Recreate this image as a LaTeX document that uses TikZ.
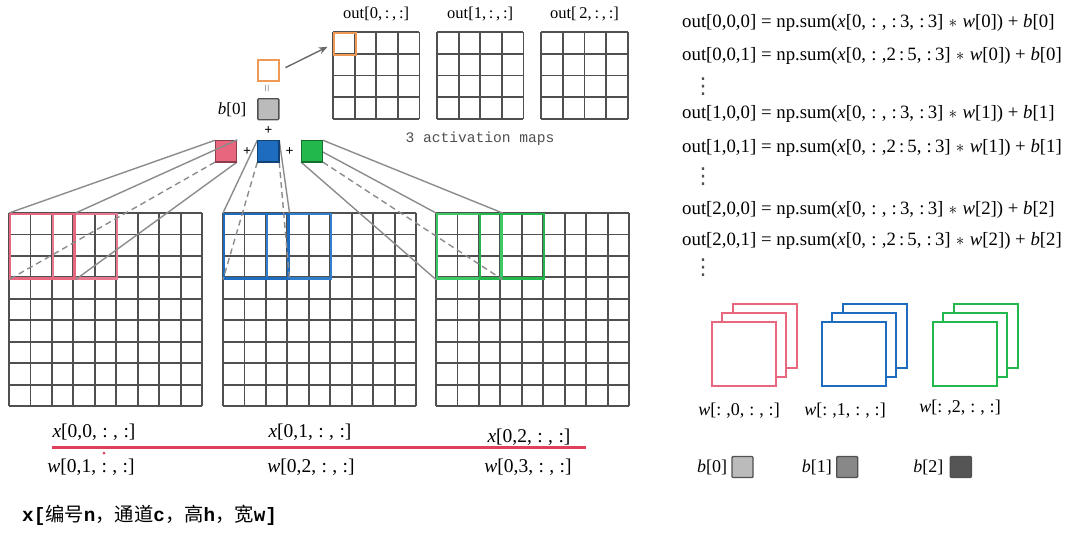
\documentclass[tikz,border=0pt]{standalone}
\usepackage{fontspec}
\setmainfont{Liberation Serif}
\newfontfamily\monofont{Liberation Mono}
\newfontfamily\cjk{Noto Sans CJK SC}
\newfontfamily\dejavu{DejaVu Sans}
\usetikzlibrary{arrows.meta}
\definecolor{pinkc}{HTML}{E8667E}
\definecolor{pinkd}{HTML}{E77A90}
\definecolor{bluec}{HTML}{1E6CC0}
\definecolor{blued}{HTML}{2F7FCC}
\definecolor{greenc}{HTML}{22B84C}
\definecolor{greend}{HTML}{3CC865}
\definecolor{orangec}{HTML}{EE9955}
\definecolor{gridc}{HTML}{505050}
\definecolor{linec}{HTML}{8C8C8C}
\definecolor{redl}{HTML}{E0405C}
\definecolor{bz}{HTML}{BBBBBB}
\definecolor{bo}{HTML}{888888}
\definecolor{bt}{HTML}{555555}
\begin{document}
\begin{tikzpicture}[x=1pt,y=-1pt,
  gl/.style={draw=gridc, line width=1.8pt},
  ksq/.style={draw=#1!60!black, fill=#1, minimum size=21.5pt, inner sep=0pt, line width=1.4pt},
  win/.style={draw=#1, line width=2.2pt, minimum size=64.35pt, inner sep=0pt, anchor=north west},
  conn/.style={draw=linec, line width=1.4pt},
  dconn/.style={draw=linec, line width=1.4pt, dash pattern=on 6pt off 4pt},
  wsq/.style={draw=#1, fill=white, line width=2pt, minimum size=64pt, inner sep=0pt},
  bsq/.style={draw=gridc, fill=#1, minimum size=21pt, inner sep=0pt, line width=1.4pt, rounded corners=1pt},
  plus/.style={font=\fontsize{14}{14}\selectfont\bfseries, inner sep=0pt},
  lab/.style={font=\fontsize{19.5}{21}\selectfont, inner sep=0pt},
  eq/.style={font=\fontsize{18.8}{21}\selectfont, inner sep=0pt, anchor=west},
  vd/.style={font=\dejavu\fontsize{22}{22}\selectfont, text=gridc, inner sep=0pt},
  wlab/.style={font=\fontsize{18}{20}\selectfont, inner sep=0pt},
  outlab/.style={font=\fontsize{16.5}{18}\selectfont, inner sep=0pt}
]
\fill[white] (0,0) rectangle (1080,533);

% ---- big input grids ----
\foreach \ox in {9,223,436}{
  \foreach \i in {0,...,9}{
    \draw[gl] (\ox+\i*21.45,213) -- (\ox+\i*21.45,406.05);
    \draw[gl] (\ox,213+\i*21.45) -- (\ox+193.05,213+\i*21.45);
  }
}
% window boxes
\node[win=pinkd] (p2) at (51.9,213) {};
\node[win=pinkc] (p1) at (9,213) {};
\node[win=blued] (b2) at (265.9,213) {};
\node[win=bluec] (b1) at (223,213) {};
\node[win=greend] (g1) at (436,213) {};
\node[win=greenc] (g2) at (478.9,213) {};

% ---- output grids ----
\foreach \ox in {333,437,541.3}{
  \foreach \i in {0,...,4}{
    \draw[gl] (\ox+\i*21.6,32.3) -- (\ox+\i*21.6,118.7);
    \draw[gl] (\ox,32.3+\i*21.6) -- (\ox+86.4,32.3+\i*21.6);
  }
}
\node[draw=orangec, line width=2pt, minimum size=21.6pt, inner sep=0pt, anchor=north west] (oc) at (333,32.3) {};
\node[outlab] (o0) at (376.2,14) {out[0,\,:\,,\,:]};
\node[outlab] (o1) at (480.2,14) {out[1,\,:\,,\,:]};
\node[outlab] (o2) at (584.5,14) {out[\,2,\,:\,,\,:]};
\node[font=\monofont\fontsize{14.6}{16}\selectfont, text=gridc, inner sep=0pt] (am) at (480,138.5) {3 activation maps};

% ---- connectors (under kernel squares) ----
\coordinate (kpc) at (226,151.2);
\coordinate (kbc) at (268.3,151.2);
\coordinate (kgc) at (312,151.2);
\node[minimum size=21.5pt, inner sep=0pt] (kp0) at (kpc) {};
\node[minimum size=21.5pt, inner sep=0pt] (kb0) at (kbc) {};
\node[minimum size=21.5pt, inner sep=0pt] (kg0) at (kgc) {};
\draw[conn] (kp0.north west) -- (p1.north west);
\draw[dconn] (kp0.south west) -- (p1.south west);
\draw[conn] (kp0.south east) -- (p1.south east);
\draw[conn] (kb0.north west) -- (b1.north west);
\draw[conn] (kb0.north east) -- (b1.north east);
\draw[dconn] (kb0.south west) -- (b1.south west);
\draw[dconn] (kb0.south east) -- (b1.south east);
\draw[conn] (kg0.north west) -- (g1.north west);
\draw[conn] (kg0.north east) -- (g1.north east);
\draw[conn] (kg0.south west) -- (g1.south west);
\draw[dconn] (kg0.south east) -- (g1.south east);

% ---- kernel squares ----
\node[ksq=pinkc] (kp) at (kpc) {};
\node[ksq=bluec] (kb) at (kbc) {};
\node[ksq=greenc] (kg) at (kgc) {};
\draw[conn] (kp.north east) -- (p1.north east);
\node[plus] (pl1) at (247,151.5) {+};
\node[plus] (pl2) at (289.5,151.5) {+};
\node[plus] (pl3) at (268.3,130.5) {+};

% bias and result
\node[bsq=bz] (bb) at (268.3,109.2) {};
\node[font=\fontsize{17}{18}\selectfont, inner sep=0pt] (bbl) at (232,109.5) {\textit{b}[0]};
\node[font=\fontsize{14}{14}\selectfont, text=gridc!70, rotate=90, inner sep=0pt] (eqs) at (268.3,88.5) {=};
\node[draw=orangec, fill=white, line width=2pt, minimum size=21pt, inner sep=0pt] (os) at (268.6,70.3) {};
\draw[draw=gridc!85, line width=1.4pt, -{Stealth[length=9pt,width=7pt]}, shorten <=6pt, shorten >=6pt] (os.east) -- (oc.west);

% ---- labels under grids ----
\node[lab] (xl0) at (94,432) {\textit{x}[0,0,\;:\;,\;:]};
\node[lab] (xl1) at (310,432) {\textit{x}[0,1,\;:\;,\;:]};
\node[lab] (xl2) at (529,437) {\textit{x}[0,2,\;:\;,\;:]};
\node[lab] (wl0) at (91,467) {\textit{w}[0,1,\;:\;,\;:]};
\node[lab] (wl1) at (311,467) {\textit{w}[0,2,\;:\;,\;:]};
\node[lab] (wl2) at (528,467) {\textit{w}[0,3,\;:\;,\;:]};
\coordinate (rl0) at (52,447.5);
\coordinate (rl1) at (586,447.5);
\draw[draw=redl, line width=2.4pt] (rl0) -- (rl1);
\fill[redl] (104,453) circle (1.5);

\node[anchor=west, inner sep=0pt, font=\fontsize{19.3}{21}\selectfont] (cn) at (22,515)
  {{\monofont\bfseries x[}{\cjk 编号}{\monofont\bfseries n}{\cjk ，通道}{\monofont\bfseries c}{\cjk ，高}{\monofont\bfseries h}{\cjk ，宽}{\monofont\bfseries w]}};

% ---- equations ----
\node[eq] (e1) at (682,23) {out[0,0,0] = np.sum(\textit{x}[0,\;:\;,\;:\,3,\;:\,3]\;$*$\;\textit{w}[0]) + \textit{b}[0]};
\node[eq] (e2) at (682,56) {out[0,0,1] = np.sum(\textit{x}[0,\;:\;,2\,:\,5,\;:\,3]\;$*$\;\textit{w}[0]) + \textit{b}[0]};
\node[vd] (d1) at (703,87) {⋮};
\node[eq] (e3) at (682,114) {out[1,0,0] = np.sum(\textit{x}[0,\;:\;,\;:\,3,\;:\,3]\;$*$\;\textit{w}[1]) + \textit{b}[1]};
\node[eq] (e4) at (682,148) {out[1,0,1] = np.sum(\textit{x}[0,\;:\;,2\,:\,5,\;:\,3]\;$*$\;\textit{w}[1]) + \textit{b}[1]};
\node[vd] (d2) at (703,177) {⋮};
\node[eq] (e5) at (682,210) {out[2,0,0] = np.sum(\textit{x}[0,\;:\;,\;:\,3,\;:\,3]\;$*$\;\textit{w}[2]) + \textit{b}[2]};
\node[eq] (e6) at (682,241) {out[2,0,1] = np.sum(\textit{x}[0,\;:\;,2\,:\,5,\;:\,3]\;$*$\;\textit{w}[2]) + \textit{b}[2]};
\node[vd] (d3) at (703,268) {⋮};

% ---- weight stacks ----
\foreach \c/\cx/\nm in {pinkc/743.8/wp, bluec/853.8/wb, greenc/964.5/wg}{
  \node[wsq=\c] (\nm3) at (\cx+21,336.2) {};
  \node[wsq=\c] (\nm2) at (\cx+10.5,345.2) {};
  \node[wsq=\c] (\nm1) at (\cx,354.2) {};
}
\node[wlab] (wt0) at (739,411) {\textit{w}[:\;,0,\;:\;,\;:]};
\node[wlab] (wt1) at (845,411) {\textit{w}[:\;,1,\;:\;,\;:]};
\node[wlab] (wt2) at (960,408) {\textit{w}[:\;,2,\;:\;,\;:]};

% ---- bias squares ----
\node[bsq=bz] (bs0) at (742.5,467) {};
\node[bsq=bo] (bs1) at (847.2,467) {};
\node[bsq=bt] (bs2) at (960.8,467) {};
\node[wlab, anchor=east] (bl0) at (bs0.west) [xshift=-4pt] {\textit{b}[0]};
\node[wlab, anchor=east] (bl1) at (bs1.west) [xshift=-4pt] {\textit{b}[1]};
\node[wlab, anchor=east] (bl2) at (bs2.west) [xshift=-6pt] {\textit{b}[2]};
\end{tikzpicture}
\end{document}
